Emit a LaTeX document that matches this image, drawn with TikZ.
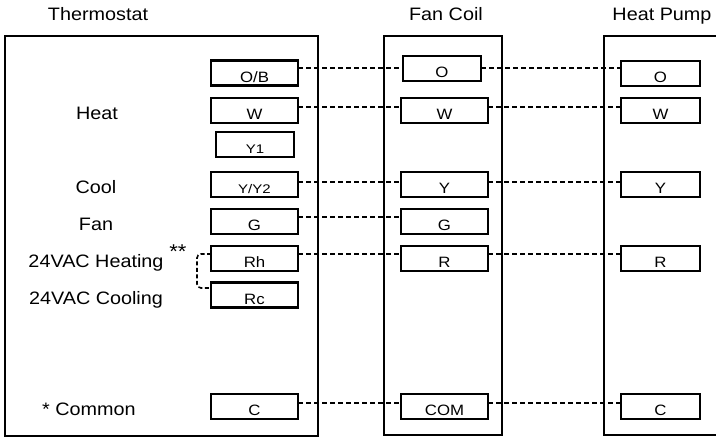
\documentclass[tikz,border=0pt]{standalone}
\usepackage{fontspec}
\setmainfont{Liberation Sans}
\newfontfamily\lblfont[FakeStretch=1.1]{Liberation Sans}
\newfontfamily\trmfont[FakeStretch=1.12]{Liberation Sans}
\newfontfamily\trmsmall[FakeStretch=1.2]{Liberation Sans}
\begin{document}
\begin{tikzpicture}[x=1pt,y=1pt,
  unitbox/.style={draw, line width=1.7pt},
  term/.style={draw, line width=2.3pt, minimum width=87pt, inner xsep=0pt, inner ysep=0pt,
    outer sep=0pt, text height=22pt, text depth=3pt, font=\trmfont\fontsize{15}{15}\selectfont},
  termsm/.style={term, minimum width=78pt, line width=1.9pt, font=\trmsmall\fontsize{12.5}{12.5}\selectfont},
  narrow/.style={minimum width=78pt},
  hp/.style={minimum width=79pt},
  lbl/.style={anchor=base, inner sep=0pt, font=\lblfont\fontsize{18}{18}\selectfont},
  wire/.style={line width=2pt, dash pattern=on 5pt off 3pt},
  jumper/.style={line width=1.6pt, dash pattern=on 4pt off 2.5pt, rounded corners=4pt}]
\useasboundingbox (0,0) rectangle (716,438);
\clip (0,0) rectangle (716,438);
% titles
\node[lbl] (ttl1) at (98,417) {Thermostat};
\node[lbl] (ttl2) at (446,417) {Fan Coil};
\node[lbl] (ttl3) at (662,417) {Heat Pump};
% unit boxes
\draw[unitbox] (5,402) rectangle (318,2);
\draw[unitbox] (384,402) rectangle (502,3);
\draw[unitbox] (604,402) rectangle (740,3);
% thermostat labels
\node[lbl] (lHeat) at (97,318) {Heat};
\node[lbl] (lCool) at (96,244) {Cool};
\node[lbl] (lFan) at (96,207) {Fan};
\node[lbl] (lHeating) at (96,170) {24VAC Heating};
\node[lbl, font=\lblfont\fontsize{20}{20}\selectfont] (lStar) at (178,179) {**};
\node[lbl] (lCooling) at (96,133) {24VAC Cooling};
\node[lbl] (lCommon) at (89,22) {* Common};
% thermostat terminals
\node[term] (tOB) at (254.5,365) {O/B};
\node[term] (tW) at (254.5,327.5) {W};
\node[termsm] (tY1) at (255,293.5) {Y1};
\node[termsm, minimum width=87pt, line width=2.3pt] (tY) at (254.5,253.5) {Y/Y2};
\node[term] (tG) at (254.5,216.5) {G};
\node[term] (tRh) at (254.5,179.5) {Rh};
\node[term] (tRc) at (254.5,143) {Rc};
\node[term] (tC) at (254.5,31.5) {C};
% fan coil terminals
\node[term, narrow] (fO) at (442,369.5) {O};
\node[term] (fW) at (444.5,327.5) {W};
\node[term] (fY) at (444.5,253.5) {Y};
\node[term] (fG) at (444.5,216.5) {G};
\node[term] (fR) at (444.5,179.5) {R};
\node[term] (fCOM) at (444.5,31.5) {COM};
% heat pump terminals
\node[term, hp] (hO) at (660.5,364.5) {O};
\node[term, hp] (hW) at (660.5,327.5) {W};
\node[term, hp] (hY) at (660.5,253.5) {Y};
\node[term, hp] (hR) at (660.5,179.5) {R};
\node[term, hp] (hC) at (660.5,31.5) {C};
% wires thermostat -> fan coil
\draw[wire] ([yshift=5pt]tOB.east) -- ([yshift=5pt]tOB.east -| fO.west);
\draw[wire] ([yshift=3.5pt]tW.east) -- ([yshift=3.5pt]tW.east -| fW.west);
\draw[wire] ([yshift=2.5pt]tY.east) -- ([yshift=2.5pt]tY.east -| fY.west);
\draw[wire] ([yshift=4.5pt]tG.east) -- ([yshift=4.5pt]tG.east -| fG.west);
\draw[wire] ([yshift=4.5pt]tRh.east) -- ([yshift=4.5pt]tRh.east -| fR.west);
\draw[wire] ([yshift=3.5pt]tC.east) -- ([yshift=3.5pt]tC.east -| fCOM.west);
% wires fan coil -> heat pump
\draw[wire] ([yshift=5pt]tOB.east -| fO.east) -- ([yshift=5pt]tOB.east -| hO.west);
\draw[wire] ([yshift=3.5pt]tW.east -| fW.east) -- ([yshift=3.5pt]tW.east -| hW.west);
\draw[wire] ([yshift=2.5pt]tY.east -| fY.east) -- ([yshift=2.5pt]tY.east -| hY.west);
\draw[wire] ([yshift=4.5pt]tRh.east -| fR.east) -- ([yshift=4.5pt]tRh.east -| hR.west);
\draw[wire] ([yshift=3.5pt]tC.east -| fCOM.east) -- ([yshift=3.5pt]tC.east -| hC.west);
% jumper Rh - Rc
\draw[jumper] ([yshift=4.5pt]tRh.west) -- ++(-14,0) |- ([yshift=7pt]tRc.west);
\end{tikzpicture}
\end{document}
